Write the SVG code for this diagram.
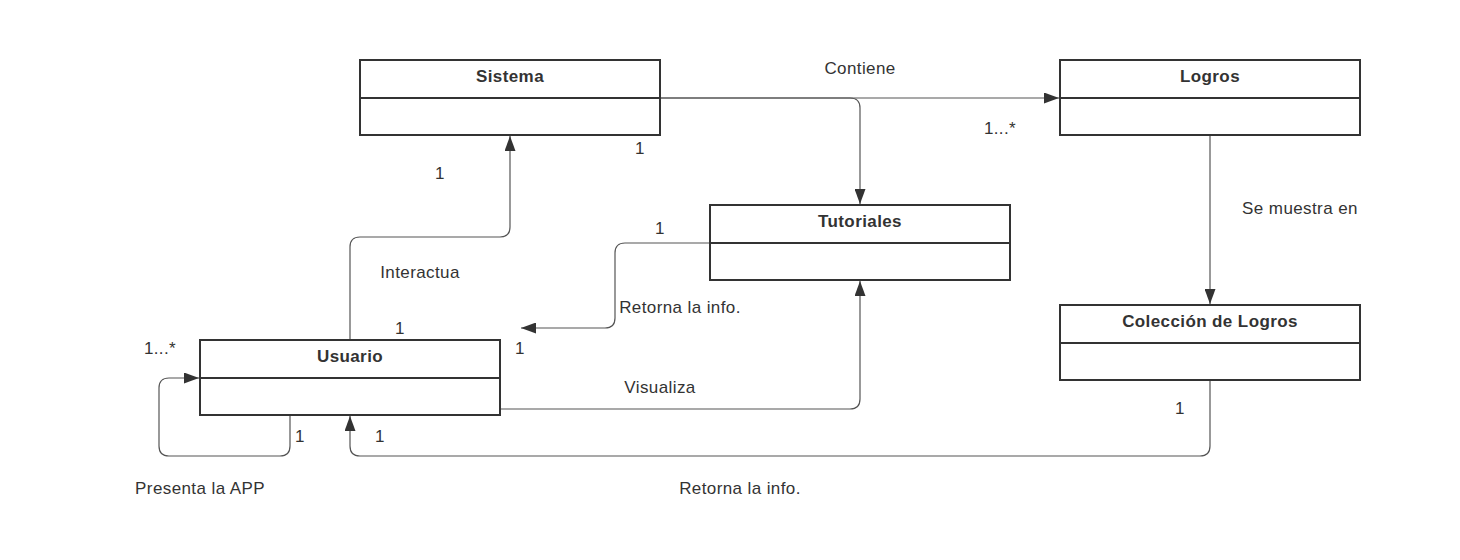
<svg xmlns="http://www.w3.org/2000/svg" width="1460" height="560" viewBox="0 0 1460 560">
<style>
.box{fill:#fff;stroke:#333;stroke-width:2}
.div{stroke:#333;stroke-width:2}
.title{font-family:"Liberation Sans",Arial,sans-serif;font-size:17px;letter-spacing:0.4px;font-weight:bold;fill:#333;text-anchor:middle}
.lbl{font-family:"Liberation Sans",Arial,sans-serif;font-size:17px;letter-spacing:0.4px;fill:#333;text-anchor:middle}
.con{fill:none;stroke:#555;stroke-width:1.2}
</style>
<defs>
<marker id="arr" viewBox="0 0 15 11" refX="15" refY="5.5" markerWidth="15" markerHeight="11" markerUnits="userSpaceOnUse" orient="auto">
<path d="M0,0 L15,5.5 L0,11 Z" fill="#333"/>
</marker>
</defs>
<rect width="1460" height="560" fill="#fff"/>
<g id="connectors">
<path class="con" d="M660,98 L1059,98" marker-end="url(#arr)"/>
<path class="con" d="M660,98 L850,98 Q860,98 860,108 L860,204" marker-end="url(#arr)"/>
<path class="con" d="M350,340 L350,247 Q350,237 360,237 L500,237 Q510,237 510,227 L510,136" marker-end="url(#arr)"/>
<path class="con" d="M710,243 L625,243 Q615,243 615,253 L615,318 Q615,328 605,328 L521,328" marker-end="url(#arr)"/>
<path class="con" d="M500,409 L850,409 Q860,409 860,399 L860,281" marker-end="url(#arr)"/>
<path class="con" d="M1210,135 L1210,304" marker-end="url(#arr)"/>
<path class="con" d="M1210,380 L1210,446 Q1210,456 1200,456 L360,456 Q350,456 350,446 L350,416" marker-end="url(#arr)"/>
<path class="con" d="M290,415 L290,446 Q290,456 280,456 L169,456 Q159,456 159,446 L159,388 Q159,378 169,378 L199,378" marker-end="url(#arr)"/>
<text class="lbl" x="860" y="74">Contiene</text>
<text class="lbl" x="1000" y="134">1...*</text>
<text class="lbl" x="640" y="154">1</text>
<text class="lbl" x="440" y="179">1</text>
<text class="lbl" x="420" y="278">Interactua</text>
<text class="lbl" x="400" y="334">1</text>
<text class="lbl" x="660" y="234">1</text>
<text class="lbl" x="680" y="313">Retorna la info.</text>
<text class="lbl" x="520" y="354">1</text>
<text class="lbl" x="660" y="393">Visualiza</text>
<text class="lbl" x="1300" y="214">Se muestra en</text>
<text class="lbl" x="1180" y="414">1</text>
<text class="lbl" x="380" y="442">1</text>
<text class="lbl" x="300" y="442">1</text>
<text class="lbl" x="160" y="354">1...*</text>
<text class="lbl" x="200" y="494">Presenta la APP</text>
<text class="lbl" x="740" y="494">Retorna la info.</text>
</g>
<g id="sistema">
<rect class="box" x="360" y="60" width="300" height="75"/>
<line class="div" x1="360" y1="98" x2="660" y2="98"/>
<text class="title" x="510" y="82">Sistema</text>
</g>
<g id="logros">
<rect class="box" x="1060" y="60" width="300" height="75"/>
<line class="div" x1="1060" y1="98" x2="1360" y2="98"/>
<text class="title" x="1210" y="82">Logros</text>
</g>
<g id="tutoriales">
<rect class="box" x="710" y="205" width="300" height="75"/>
<line class="div" x1="710" y1="243" x2="1010" y2="243"/>
<text class="title" x="860" y="227">Tutoriales</text>
</g>
<g id="usuario">
<rect class="box" x="200" y="340" width="300" height="75"/>
<line class="div" x1="200" y1="378" x2="500" y2="378"/>
<text class="title" x="350" y="362">Usuario</text>
</g>
<g id="coleccion">
<rect class="box" x="1060" y="305" width="300" height="75"/>
<line class="div" x1="1060" y1="343" x2="1360" y2="343"/>
<text class="title" x="1210" y="327">Colección de Logros</text>
</g>
</svg>
